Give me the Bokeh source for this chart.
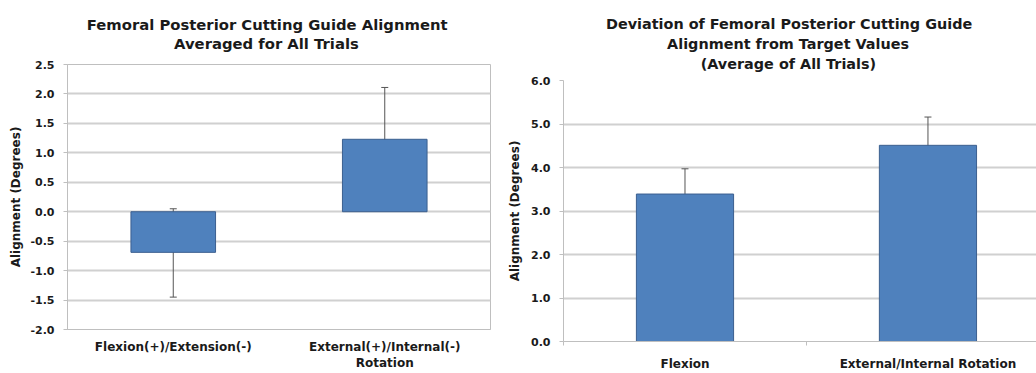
from bokeh.plotting import figure
from bokeh.models import (Range1d, FixedTicker, NumeralTickFormatter, ColumnDataSource,
                          Whisker, TeeHead, Title)
from bokeh.layouts import row, column
from bokeh.embed import file_html
from bokeh.resources import INLINE

# ---------------- data ----------------
y_label = "Alignment (Degrees)"

left_title = ["Femoral Posterior Cutting Guide Alignment", "Averaged for All Trials"]
left_categories = ["Flexion(+)/Extension(-)", "External(+)/Internal(-)\nRotation"]
left_means = [-0.69, 1.23]
left_upper = [0.05, 2.11]
left_lower = [-1.45, 0.33]
left_yticks = [-2.0, -1.5, -1.0, -0.5, 0.0, 0.5, 1.0, 1.5, 2.0, 2.5]

right_title = ["Deviation of Femoral Posterior Cutting Guide",
               "Alignment from Target Values",
               "(Average of All Trials)"]
right_categories = ["Flexion", "External/Internal Rotation"]
right_means = [3.39, 4.51]
right_upper = [3.97, 5.16]
right_lower = [2.79, 3.85]
right_yticks = [0.0, 1.0, 2.0, 3.0, 4.0, 5.0, 6.0]

# ---------------- style ----------------
FONT = "DejaVu Sans"
TXT = "#1a1a1a"
GRID = "#d0d0d0"
AXIS = "#bfbfbf"
BAR_FILL = "#4f81bd"
BAR_LINE = "#3b5f8f"
ERR = "#555555"

# approximate advance widths (em) of DejaVu Sans Bold, used to centre title lines
_W = {" ": 0.348, "(": 0.457, ")": 0.457, "A": 0.774, "C": 0.734, "D": 0.830,
      "F": 0.683, "G": 0.821, "P": 0.733, "T": 0.682, "V": 0.774, "a": 0.675,
      "d": 0.716, "e": 0.678, "f": 0.435, "g": 0.716, "h": 0.712, "i": 0.343,
      "l": 0.343, "m": 1.042, "n": 0.712, "o": 0.687, "r": 0.493, "s": 0.595,
      "t": 0.478, "u": 0.712, "v": 0.652}


def text_width(s, px):
    return sum(_W.get(ch, 0.65) for ch in s) * px


def make_chart(width, height, b_left, b_right, b_top, b_bottom, cat_px,
               categories, means, upper, lower, yticks, title_lines, title_center,
               title_px, title_gap, title_standoff, label_standoff, ytitle_standoff,
               outline):
    n = len(categories)
    xs = [i + 0.5 for i in range(n)]
    frame_w = width - b_left - b_right
    p = figure(width=width, height=height, output_backend="svg",
               toolbar_location=None,
               x_range=Range1d(0, frame_w / cat_px), y_range=Range1d(yticks[0], yticks[-1]),
               min_border_left=b_left, min_border_right=b_right,
               min_border_top=b_top, min_border_bottom=b_bottom)
    p.background_fill_color = "white"
    p.border_fill_color = "white"
    p.outline_line_color = AXIS if outline else None

    p.xgrid.grid_line_color = None
    p.ygrid.grid_line_color = GRID
    p.ygrid.grid_line_width = 2
    p.ygrid.ticker = FixedTicker(ticks=yticks)

    p.yaxis.ticker = FixedTicker(ticks=yticks)
    p.yaxis.formatter = NumeralTickFormatter(format="0.0")
    p.yaxis.axis_line_color = AXIS
    p.yaxis.major_tick_line_color = AXIS
    p.yaxis.major_tick_out = 4
    p.yaxis.major_tick_in = 0
    p.yaxis.minor_tick_line_color = None
    p.yaxis.major_label_standoff = 9
    p.yaxis.major_label_text_font = FONT
    p.yaxis.major_label_text_font_style = "bold"
    p.yaxis.major_label_text_font_size = "11px"
    p.yaxis.major_label_text_color = TXT
    p.yaxis.axis_label = y_label
    p.yaxis.axis_label_text_font = FONT
    p.yaxis.axis_label_text_font_style = "bold"
    p.yaxis.axis_label_text_font_size = "12px"
    p.yaxis.axis_label_text_color = TXT
    p.yaxis.axis_label_standoff = ytitle_standoff

    p.xaxis.ticker = FixedTicker(ticks=xs, minor_ticks=[float(i) for i in range(n + 1)])
    p.xaxis.major_label_overrides = {x: c for x, c in zip(xs, categories)}
    p.xaxis.axis_line_color = AXIS
    p.xaxis.major_tick_line_color = None
    p.xaxis.major_tick_out = 0
    p.xaxis.major_tick_in = 0
    p.xaxis.minor_tick_line_color = None if outline else AXIS
    p.xaxis.minor_tick_out = 4
    p.xaxis.minor_tick_in = 0
    p.xaxis.major_label_standoff = label_standoff
    p.xaxis.major_label_text_font = FONT
    p.xaxis.major_label_text_font_style = "bold"
    p.xaxis.major_label_text_font_size = "12px"
    p.xaxis.major_label_text_color = TXT

    src = ColumnDataSource(dict(x=xs, top=means, upper=upper, lower=lower))
    p.vbar(x="x", top="top", bottom=0, width=0.4, source=src,
           fill_color=BAR_FILL, line_color=BAR_LINE, line_width=1)
    w = Whisker(source=src, base="x", upper="upper", lower="lower",
                line_color=ERR, line_width=1,
                upper_head=TeeHead(size=7, line_color=ERR, line_width=1),
                lower_head=TeeHead(size=7, line_color=ERR, line_width=1))
    p.add_layout(w)

    # spacer between the frame and the title block
    p.add_layout(Title(text=" ", text_font_size="1px", standoff=title_gap), "above")
    for line in reversed(title_lines):
        off = title_center - text_width(line, title_px) / 2.0
        p.add_layout(Title(text=line, align="left", offset=off, standoff=title_standoff,
                           text_font=FONT, text_font_style="bold",
                           text_font_size=f"{title_px}px", text_color=TXT), "above")
    return p


H = 373
left = make_chart(505, H, 67, 15, 64, 43, 211.5,
                  left_categories, left_means, left_upper, left_lower, left_yticks,
                  left_title, 200, 14.8, 10, 0, 6, 4, True)
right = make_chart(531, H, 56, 0, 80, 31, 244.0,
                   right_categories, right_means, right_upper, right_lower, right_yticks,
                   right_title, 226, 14.4, 5, 2, 11, 6, False)

layout = row(column(left), column(right))
open("out.html", "w").write(file_html(layout, INLINE))
